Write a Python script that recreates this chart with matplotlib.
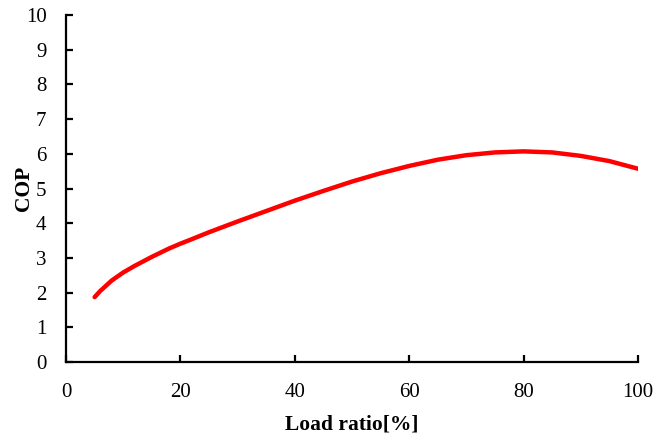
import matplotlib
matplotlib.use('Agg')
import matplotlib.pyplot as plt

load_ratio = [5, 6, 7, 8, 10, 12, 15, 18, 20, 22, 25, 30, 35, 40, 45, 50, 55, 60, 65, 70, 75, 80, 85, 90, 95, 100]
cop = [1.87, 2.05, 2.2, 2.35, 2.58, 2.77, 3.03, 3.27, 3.41, 3.54, 3.74, 4.05, 4.35, 4.65, 4.93, 5.2, 5.44, 5.65, 5.83, 5.96, 6.04, 6.07, 6.04, 5.94, 5.79, 5.57]

plt.rcParams['font.family'] = ['Liberation Serif', 'DejaVu Serif']

fig = plt.figure(figsize=(6.57, 4.36), dpi=100)
ax = fig.add_axes([0.1005, 0.1697, 0.8705, 0.7959])
ax.plot(load_ratio, cop, color='#ff0000', linewidth=3.2, solid_capstyle='round')

ax.set_xlim(0, 100)
ax.set_ylim(0, 10)
ax.set_xticks(range(0, 101, 20))
ax.set_yticks(range(0, 11))
ax.spines['top'].set_visible(False)
ax.spines['right'].set_visible(False)
for s in ['left', 'bottom']:
    ax.spines[s].set_linewidth(1.6)
ax.tick_params(direction='in', length=5, width=1.6, labelsize=15)
ax.tick_params(axis='x', pad=15)
ax.tick_params(axis='y', pad=14)
ax.set_xlabel('Load ratio[%]', fontsize=15.5, fontweight='bold', labelpad=9)
ax.set_ylabel('COP', fontsize=15.5, fontweight='bold', labelpad=-6)

fig.savefig('out.png', dpi=100)
